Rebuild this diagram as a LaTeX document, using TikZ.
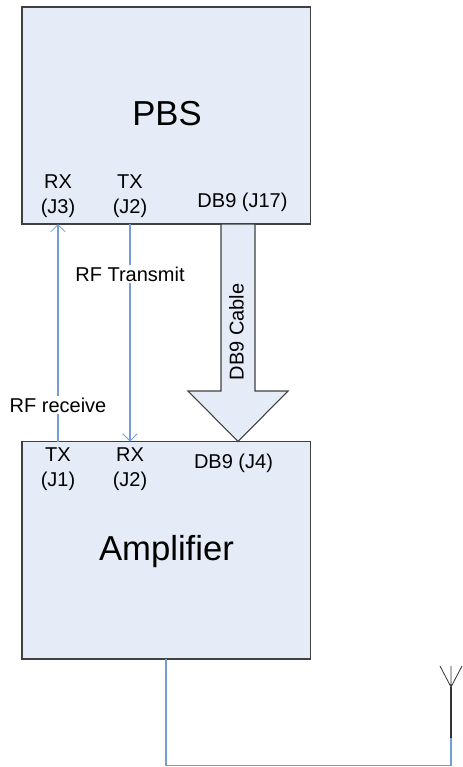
\documentclass[tikz,border=0pt]{standalone}
\usepackage{fontspec}
\setmainfont{Liberation Sans}
\usetikzlibrary{arrows.meta}
\definecolor{boxfill}{RGB}{230,236,247}
\definecolor{rfblue}{RGB}{118,156,214}
\tikzset{
	unitbox/.style={draw=black!75, line width=0.8pt, fill=boxfill},
	unitlabel/.style={font=\fontsize{26}{31}\selectfont, inner sep=0pt},
	rfline/.style={draw=rfblue, line width=0.8pt},
	rftip/.style={-{Straight Barb[length=5.5pt,width=11pt,line width=0.6pt]}},
	portlabel/.style={font=\fontsize{15}{18.8}\selectfont, align=center, inner sep=0pt},
	wirelabel/.style={font=\fontsize{15}{18}\selectfont, fill=white, inner sep=1.5pt}
}
\begin{document}
\begin{tikzpicture}[x=0.75pt,y=-0.75pt]
	\useasboundingbox (0,0) rectangle (462,767);
	%the two units
	\draw[unitbox] (22,7) rectangle (310.5,224);
	\draw[unitbox] (22,441.5) rectangle (310.5,659);
	\node[unitlabel] (pbs) at (167,114) {PBS};
	\node[unitlabel] (amplifier) at (166.5,552) {Amplifier};
	%port labels
	\node[portlabel] (pbsrx) at (58,196.5) {RX\\(J3)};
	\node[portlabel] (pbstx) at (130,196.5) {TX\\(J2)};
	\node[portlabel] (pbsdb) at (242.5,202) {DB9 (J17)};
	\node[portlabel] (amptx) at (58,469) {TX\\(J1)};
	\node[portlabel] (amprx) at (130,469) {RX\\(J2)};
	\node[portlabel] (ampdb) at (233.5,463) {DB9 (J4)};
	%end points on the box edges
	\coordinate (pbsrxpin) at (58,224);
	\coordinate (pbstxpin) at (130,224);
	\coordinate (amptxpin) at (58,441.5);
	\coordinate (amprxpin) at (130,441.5);
	\coordinate (ampout) at (166,659);
	\coordinate (wirecorner) at (166,765.5);
	\coordinate (antfoot) at (451,738);
	\coordinate (antjoint) at (451,687);
	\coordinate (anttop) at (451,666);
	\coordinate (antleft) at (440,666);
	\coordinate (antright) at (462,666);
	%rf lines
	\draw[rfline, rftip] (amptxpin) -- (pbsrxpin);
	\draw[rfline, rftip] (pbstxpin) -- (amprxpin);
	\node[wirelabel] (rftransmit) at (130,274) {RF Transmit};
	\node[wirelabel] (rfreceive) at (58,405) {RF receive};
	%db9 cable
	\draw[unitbox, line join=miter] (221,224) -- (255,224) -- (255,391) -- (288,391) -- (238,441.5) -- (188,391) -- (221,391) -- cycle;
	\node[portlabel, rotate=90] (dbcable) at (236.5,332) {DB9 Cable};
	%antenna
	\draw[rfline] (ampout) -- (wirecorner) -| (antfoot);
	\draw[line width=0.8pt, black!80] (antfoot) -- (antjoint);
	\draw[line width=0.6pt, black!80] (antjoint) -- (anttop) (antleft) -- (antjoint) -- (antright);
\end{tikzpicture}
\end{document}
